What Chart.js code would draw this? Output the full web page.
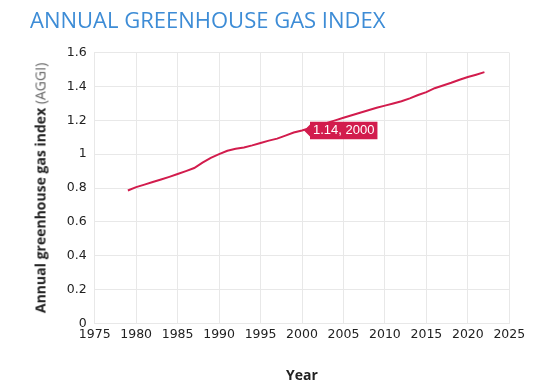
<!DOCTYPE html>
<html>
<head>
<meta charset="utf-8">
<title>Annual Greenhouse Gas Index</title>
<script src="https://cdn.jsdelivr.net/npm/chart.js@4/dist/chart.umd.min.js"></script>
<style>
    body { margin: 0; background: #fff; }
    #wrap { position: relative; width: 540px; height: 391px; }
    #title {
        position: absolute; left: 30px; top: 4px;
        font-family: 'Open Sans', sans-serif; font-size: 22px; line-height: 30px;
        color: #3d8cd6; white-space: nowrap;
    }
    #yTitle {
        position: absolute; left: 40px; top: 188px;
        transform: translate(-50%, -50%) rotate(-90deg);
        font-family: 'Open Sans', sans-serif; font-size: 14px; white-space: nowrap;
        color: #222;
    }
    #yTitle b { font-weight: 700; }
    #yTitle span { color: #666; }
    canvas { position: absolute; left: 0; top: 0; }
</style>
</head>
<body>
<div id="wrap">
    <canvas id="aggiChart" width="540" height="391"></canvas>
    <div id="title">ANNUAL GREENHOUSE GAS INDEX</div>
    <div id="yTitle"><b>Annual greenhouse gas index</b> <span>(AGGI)</span></div>
</div>
<script>
// Data
const years = [1979, 1980, 1981, 1982, 1983, 1984, 1985, 1986, 1987, 1988,
    1989, 1990, 1991, 1992, 1993, 1994, 1995, 1996, 1997, 1998,
    1999, 2000, 2001, 2002, 2003, 2004, 2005, 2006, 2007, 2008,
    2009, 2010, 2011, 2012, 2013, 2014, 2015, 2016, 2017, 2018,
    2019, 2020, 2021, 2022];
const aggi = [0.785, 0.805, 0.820, 0.835, 0.850, 0.866, 0.883, 0.900, 0.918, 0.950,
    0.978, 1.000, 1.020, 1.032, 1.040, 1.052, 1.066, 1.080, 1.092, 1.110,
    1.128, 1.140, 1.155, 1.170, 1.185, 1.200, 1.215, 1.230, 1.245, 1.260,
    1.274, 1.287, 1.300, 1.313, 1.330, 1.350, 1.367, 1.390, 1.406, 1.422,
    1.440, 1.456, 1.470, 1.485];
const xTicks = [1975, 1980, 1985, 1990, 1995, 2000, 2005, 2010, 2015, 2020, 2025];
const yTicks = [0, 0.2, 0.4, 0.6, 0.8, 1, 1.2, 1.4, 1.6];
const highlightYear = 2000;

const lineColor = '#d21c4d';
const gridColor = '#e8e8e8';
const tickFont = { family: 'DejaVu Sans', size: 12.5 };

const points = years.map((y, i) => ({ x: y, y: aggi[i] }));

const ctx = document.getElementById('aggiChart').getContext('2d');
const chart = new Chart(ctx, {
    type: 'line',
    data: {
        datasets: [{
            label: 'AGGI',
            data: points,
            borderColor: lineColor,
            backgroundColor: lineColor,
            borderWidth: 2,
            pointRadius: 0,
            pointHoverRadius: 0,
            tension: 0,
            fill: false
        }]
    },
    options: {
        responsive: false,
        animation: false,
        events: [],
        layout: { padding: { top: 52.7, right: 30.7, bottom: 0, left: 0 } },
        plugins: {
            legend: { display: false },
            tooltip: {
                enabled: true,
                backgroundColor: lineColor,
                bodyColor: '#fff',
                bodyFont: { family: 'Liberation Sans', size: 13 },
                padding: { x: 3, y: 1 },
                cornerRadius: 0,
                caretSize: 6,
                caretPadding: 2,
                displayColors: false,
                xAlign: 'left',
                yAlign: 'center',
                callbacks: {
                    title: () => '',
                    label: (item) => item.parsed.y.toFixed(2) + ', ' + item.parsed.x
                }
            }
        },
        scales: {
            x: {
                type: 'linear',
                min: xTicks[0],
                max: xTicks[xTicks.length - 1],
                afterBuildTicks: (scale) => { scale.ticks = xTicks.map(v => ({ value: v })); },
                afterFit: (scale) => { scale.height = 391 - 323.3; },
                grid: { color: gridColor, drawTicks: false },
                border: { color: gridColor },
                ticks: {
                    color: '#222',
                    font: tickFont,
                    padding: 4,
                    maxRotation: 0,
                    autoSkip: false,
                    callback: (v) => String(v)
                },
                title: {
                    display: true,
                    text: 'Year',
                    color: '#222',
                    font: { family: 'Open Sans', size: 14, weight: 'bold' },
                    padding: { top: 0, bottom: 6.6 }
                }
            },
            y: {
                min: yTicks[0],
                max: yTicks[yTicks.length - 1],
                afterBuildTicks: (scale) => { scale.ticks = yTicks.map(v => ({ value: v })); },
                afterFit: (scale) => { scale.width = 94.7; },
                grid: { color: gridColor, drawTicks: false },
                border: { color: gridColor },
                ticks: {
                    color: '#222',
                    font: tickFont,
                    padding: 8,
                    callback: (v) => String(+v.toFixed(1))
                }
            }
        }
    }
});

// Show the fixed label on the year 2000 point
const idx = years.indexOf(highlightYear);
chart.tooltip.setActiveElements([{ datasetIndex: 0, index: idx }], { x: 0, y: 0 });
chart.update();
</script>
</body>
</html>
